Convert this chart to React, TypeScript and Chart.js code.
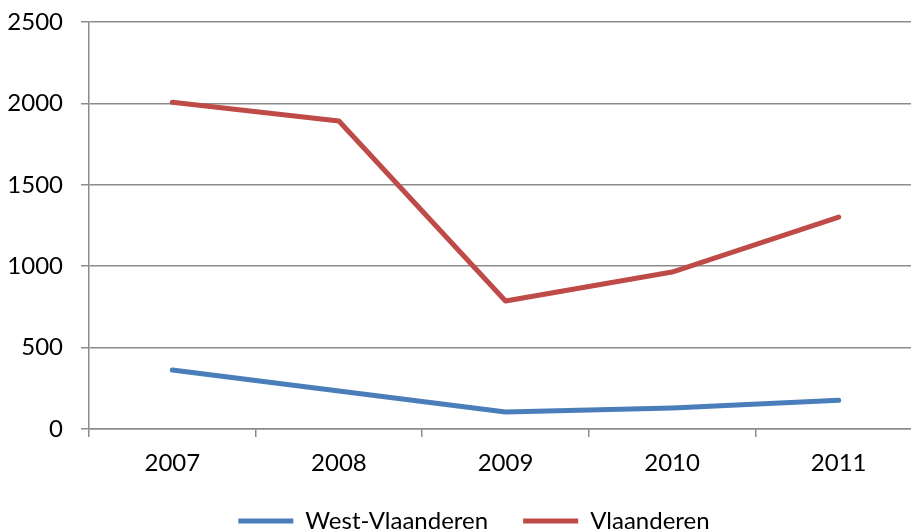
import React, { useEffect, useRef } from "react";
import { Chart, registerables } from "chart.js";

Chart.register(...registerables);

const years = ["2007", "2008", "2009", "2010", "2011"];
const westVlaanderen = [362, 233, 104, 129, 176];
const vlaanderen = [2007, 1892, 786, 964, 1302];
const yMin = 0;
const yMax = 2500;
const yStep = 500;

const FONT = "Lato, 'Open Sans', 'Liberation Sans', sans-serif";
const GRID = "#8c8c8c";

const legendShift = {
  id: "legendShift",
  afterLayout(chart: any) {
    const lg = chart.legend;
    if (lg) {
      const dx = 13;
      lg.left += dx;
      lg.right += dx;
    }
  },
};

export default function App() {
  const ref = useRef<HTMLCanvasElement | null>(null);
  useEffect(() => {
    if (!ref.current) return;
    const chart = new Chart(ref.current, {
      type: "line",
      data: {
        labels: years,
        datasets: [
          {
            label: "West-Vlaanderen",
            data: westVlaanderen,
            borderColor: "#4A7EBB",
            backgroundColor: "#4A7EBB",
            borderWidth: 5,
            borderCapStyle: "round",
            borderJoinStyle: "round",
            pointRadius: 0,
            pointHoverRadius: 0,
            pointStyle: "line",
            tension: 0,
          },
          {
            label: "Vlaanderen",
            data: vlaanderen,
            borderColor: "#BE4B48",
            backgroundColor: "#BE4B48",
            borderWidth: 5,
            borderCapStyle: "round",
            borderJoinStyle: "round",
            pointRadius: 0,
            pointHoverRadius: 0,
            pointStyle: "line",
            tension: 0,
          },
        ],
      },
      options: {
        animation: false,
        responsive: true,
        maintainAspectRatio: false,
        layout: { padding: { top: 22, left: 0, right: 0, bottom: 0 } },
        plugins: {
          tooltip: { enabled: false },
          legend: {
            position: "bottom",
            labels: {
              usePointStyle: true,
              pointStyle: "line",
              pointStyleWidth: 55,
              padding: 35,
              color: "#000",
              font: { family: FONT, size: 24 },
            },
          },
        },
        scales: {
          x: {
            offset: true,
            grid: {
              display: true,
              drawOnChartArea: false,
              drawTicks: true,
              tickLength: 8,
              color: GRID,
              lineWidth: 1.5,
              offset: true,
            },
            border: { display: true, color: GRID, width: 1.5 },
            ticks: {
              color: "#000",
              font: { family: FONT, size: 24 },
              padding: 12,
              maxRotation: 0,
            },
            afterFit: (s: any) => {
              s.height = 45;
            },
          },
          y: {
            min: yMin,
            max: yMax,
            grid: {
              color: GRID,
              lineWidth: 1.5,
              tickLength: 26,
              drawTicks: true,
              tickBorderDash: [8, 100],
              tickBorderDashOffset: 90,
            },
            border: { display: true, color: GRID, width: 1.5 },
            ticks: {
              stepSize: yStep,
              color: "#000",
              font: { family: FONT, size: 24 },
              padding: 0,
              callback: (v: any) => String(v),
            },
            afterFit: (s: any) => {
              s.width = 89;
            },
          },
        },
      },
      plugins: [legendShift],
    });
    return () => chart.destroy();
  }, []);
  return (
    <div style={{ position: "fixed", left: 0, top: 0, width: 922, height: 543, background: "#fff" }}>
      <canvas ref={ref} />
    </div>
  );
}
